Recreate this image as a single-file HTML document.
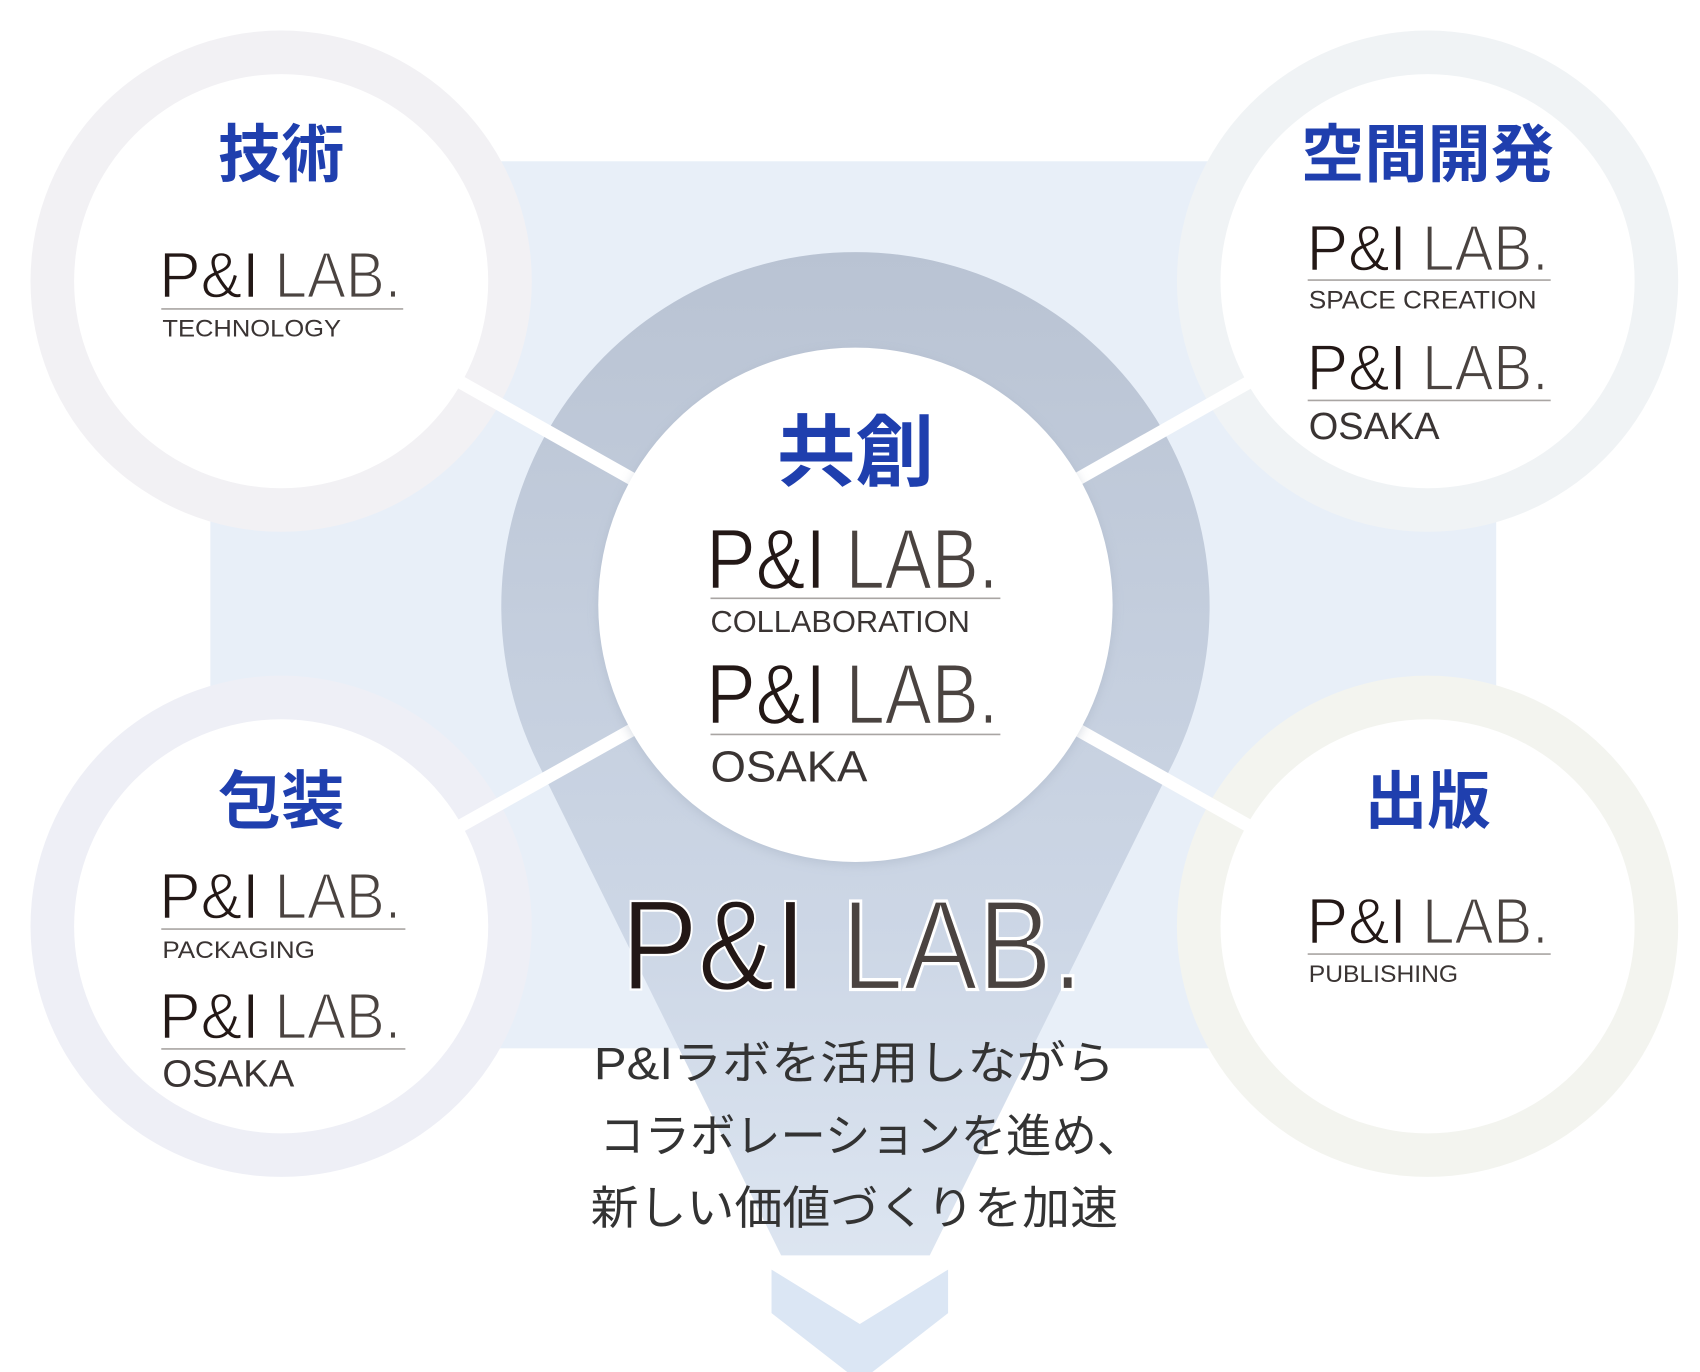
<!DOCTYPE html>
<html><head><meta charset="utf-8"><style>
html,body{margin:0;padding:0;background:#fff;}
svg{display:block;}
.t{font-family:"Liberation Sans","Noto Sans CJK JP",sans-serif;font-weight:700;fill:#1f3fae;text-anchor:middle;}
.p{font-family:"Liberation Sans",sans-serif;fill:#231816;stroke:#fff;stroke-width:1.3;}
.l{font-family:"Liberation Sans",sans-serif;fill:#4a4340;stroke:#fff;stroke-width:1.6;}
.s{font-family:"Liberation Sans",sans-serif;fill:#3a3433;}
.j{font-family:"Liberation Sans","Noto Sans CJK JP",sans-serif;fill:#333;font-size:42px;}
</style></head><body>
<svg width="1700" height="1372" viewBox="0 0 1560 1259" preserveAspectRatio="none">
<defs>
<linearGradient id="g" x1="0" y1="0" x2="0" y2="1" gradientUnits="objectBoundingBox">
<stop offset="0" stop-color="#b9c3d3"/><stop offset="0.6" stop-color="#cdd7e6"/><stop offset="1" stop-color="#e4ecf6"/>
</linearGradient>
<clipPath id="c"><rect x="0" y="0" width="1560" height="1152"/></clipPath>
<filter id="sh" x="-20%" y="-20%" width="140%" height="140%"><feGaussianBlur stdDeviation="5"/></filter>
</defs>
<rect x="193" y="148" width="1180" height="814" fill="#e8eff8"/>
<g clip-path="url(#c)">
<path d="M493 699 A325 325 0 1 1 1077 699 L785 1290 Z" fill="url(#g)"/>
</g>
<polygon points="708,1165 789,1215 870,1165 870,1205 789,1268 708,1205" fill="#dbe6f4"/>
<circle cx="258" cy="258" r="230" fill="#f2f1f4"/>
<circle cx="1310" cy="258" r="230" fill="#f0f3f5"/>
<circle cx="258" cy="850" r="230" fill="#eeeff6"/>
<circle cx="1310" cy="850" r="230" fill="#f3f4ef"/>
<g stroke="#fff" stroke-width="12">
<line x1="785" y1="555" x2="258" y2="258"/>
<line x1="785" y1="555" x2="1310" y2="258"/>
<line x1="785" y1="555" x2="258" y2="850"/>
<line x1="785" y1="555" x2="1310" y2="850"/>
</g>
<circle cx="258" cy="258" r="190" fill="#fff"/>
<circle cx="1310" cy="258" r="190" fill="#fff"/>
<circle cx="258" cy="850" r="190" fill="#fff"/>
<circle cx="1310" cy="850" r="190" fill="#fff"/>
<circle cx="785" cy="558" r="236" fill="#9aa6b8" opacity="0.35" filter="url(#sh)"/>
<circle cx="785" cy="555" r="236" fill="#fff"/>

<text class="t" x="258" y="162" font-size="58">技術</text>
<text class="t" x="1310" y="162" font-size="58">空間開発</text>
<text class="t" x="258" y="755" font-size="58">包装</text>
<text class="t" x="1310" y="755" font-size="58">出版</text>
<text class="t" x="785" y="440" font-size="72">共創</text>

<text class="p" x="146" y="273" font-size="60" textLength="92" lengthAdjust="spacingAndGlyphs">P&amp;I</text>
<text class="l" x="252" y="273" font-size="60" textLength="116" lengthAdjust="spacingAndGlyphs">LAB.</text>
<line x1="148" y1="283.5" x2="370" y2="283.5" stroke="#a9a5a3" stroke-width="1.5"/>
<text class="s" x="149" y="309" font-size="22" textLength="164" lengthAdjust="spacingAndGlyphs">TECHNOLOGY</text>

<text class="p" x="1199" y="248" font-size="60" textLength="92" lengthAdjust="spacingAndGlyphs">P&amp;I</text>
<text class="l" x="1305" y="248" font-size="60" textLength="116" lengthAdjust="spacingAndGlyphs">LAB.</text>
<line x1="1200" y1="257" x2="1423" y2="257" stroke="#a9a5a3" stroke-width="1.5"/>
<text class="s" x="1201" y="283" font-size="23" textLength="209" lengthAdjust="spacingAndGlyphs">SPACE CREATION</text>
<text class="p" x="1199" y="358" font-size="60" textLength="92" lengthAdjust="spacingAndGlyphs">P&amp;I</text>
<text class="l" x="1305" y="358" font-size="60" textLength="116" lengthAdjust="spacingAndGlyphs">LAB.</text>
<line x1="1200" y1="367.5" x2="1423" y2="367.5" stroke="#a9a5a3" stroke-width="1.5"/>
<text class="s" x="1201" y="403" font-size="35" textLength="120" lengthAdjust="spacingAndGlyphs">OSAKA</text>

<text class="p" x="146" y="843" font-size="60" textLength="92" lengthAdjust="spacingAndGlyphs">P&amp;I</text>
<text class="l" x="252" y="843" font-size="60" textLength="116" lengthAdjust="spacingAndGlyphs">LAB.</text>
<line x1="148" y1="852.5" x2="372" y2="852.5" stroke="#a9a5a3" stroke-width="1.5"/>
<text class="s" x="149" y="879" font-size="22" textLength="140" lengthAdjust="spacingAndGlyphs">PACKAGING</text>
<text class="p" x="146" y="953" font-size="60" textLength="92" lengthAdjust="spacingAndGlyphs">P&amp;I</text>
<text class="l" x="252" y="953" font-size="60" textLength="116" lengthAdjust="spacingAndGlyphs">LAB.</text>
<line x1="148" y1="962.5" x2="372" y2="962.5" stroke="#a9a5a3" stroke-width="1.5"/>
<text class="s" x="149" y="997" font-size="35" textLength="121" lengthAdjust="spacingAndGlyphs">OSAKA</text>

<text class="p" x="1199" y="866" font-size="60" textLength="92" lengthAdjust="spacingAndGlyphs">P&amp;I</text>
<text class="l" x="1305" y="866" font-size="60" textLength="116" lengthAdjust="spacingAndGlyphs">LAB.</text>
<line x1="1200" y1="875.5" x2="1423" y2="875.5" stroke="#a9a5a3" stroke-width="1.5"/>
<text class="s" x="1201" y="901" font-size="22" textLength="137" lengthAdjust="spacingAndGlyphs">PUBLISHING</text>

<text class="p" x="648" y="540" font-size="78" textLength="110" lengthAdjust="spacingAndGlyphs">P&amp;I</text>
<text class="l" x="776" y="540" font-size="78" textLength="140" lengthAdjust="spacingAndGlyphs">LAB.</text>
<line x1="652" y1="549" x2="918" y2="549" stroke="#a9a5a3" stroke-width="1.5"/>
<text class="s" x="652" y="580" font-size="28" textLength="238" lengthAdjust="spacingAndGlyphs">COLLABORATION</text>
<text class="p" x="648" y="664" font-size="78" textLength="110" lengthAdjust="spacingAndGlyphs">P&amp;I</text>
<text class="l" x="776" y="664" font-size="78" textLength="140" lengthAdjust="spacingAndGlyphs">LAB.</text>
<line x1="652" y1="674" x2="918" y2="674" stroke="#a9a5a3" stroke-width="1.5"/>
<text class="s" x="652" y="717" font-size="40" textLength="144" lengthAdjust="spacingAndGlyphs">OSAKA</text>

<text class="p" x="570" y="908" font-size="118" textLength="170" lengthAdjust="spacingAndGlyphs" style="stroke-width:2">P&amp;I</text>
<text class="l" x="772" y="908" font-size="118" textLength="222" lengthAdjust="spacingAndGlyphs" style="stroke-width:3">LAB.</text>

<text class="j" x="545" y="990" textLength="478" lengthAdjust="spacingAndGlyphs">P&amp;Iラボを活用しながら</text>
<text class="j" x="550" y="1057" textLength="498" lengthAdjust="spacingAndGlyphs">コラボレーションを進め、</text>
<text class="j" x="542" y="1123" textLength="484" lengthAdjust="spacingAndGlyphs">新しい価値づくりを加速</text>
</svg>
</body></html>
